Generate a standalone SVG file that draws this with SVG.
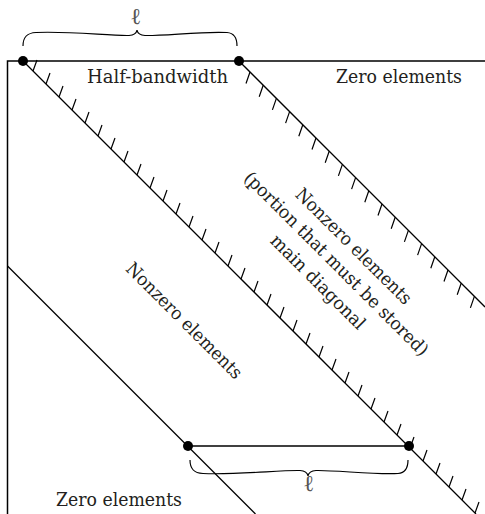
<svg xmlns="http://www.w3.org/2000/svg" width="485" height="514" viewBox="0 0 485 514">
<style>
.ln{stroke:#000;stroke-width:1.3;fill:none}
.bd{stroke:#000;stroke-width:1.5;fill:none}
.tk{stroke:#000;stroke-width:1.2;fill:none}
.br{stroke:#000;stroke-width:1.2;fill:none}
.dot{fill:#000}
.t{font-family:"DejaVu Serif","Liberation Serif",serif;font-size:18px;fill:#231f20}
.el{font-family:"Liberation Serif","DejaVu Sans",serif;font-size:23px;fill:#555;text-anchor:middle}
</style>
<rect width="485" height="514" fill="#fff"/>
<g id="frame">
<path class="bd" d="M7.5,514 V61 H485"/>
</g>
<g id="connectors">
<path id="main-diagonal" class="ln" d="M23,61 L476,514"/>
<path id="upper-band" class="ln" d="M239,61 L485,307"/>
<path id="lower-band" class="ln" d="M7.5,266 L255.5,514"/>
<path id="bandwidth-row" class="ln" d="M188,446 H409"/>
<path id="main-hatch" class="tk" d="M33,71l4,-11M46,84l4,-11M59,97l4,-11M72,110l4,-11M85,123l4,-11M98,136l4,-11M111,149l4,-11M124,162l4,-11M137,175l4,-11M150,188l4,-11M163,201l4,-11M176,214l4,-11M189,227l4,-11M202,240l4,-11M215,253l4,-11M228,266l4,-11M241,279l4,-11M254,292l4,-11M267,305l4,-11M280,318l4,-11M293,331l4,-11M306,344l4,-11M319,357l4,-11M332,370l4,-11M345,383l4,-11M358,396l4,-11M371,409l4,-11M384,422l4,-11M397,435l4,-11M410,448l4,-11M423,461l4,-11M436,474l4,-11M449,487l4,-11M462,500l4,-11M475,513l4,-11"/>
<path id="upper-hatch" class="tk" d="M250,72l-4,11.5M263.2,85.2l-4,11.5M276.4,98.4l-4,11.5M289.6,111.6l-4,11.5M302.8,124.8l-4,11.5M316,138l-4,11.5M329.2,151.2l-4,11.5M342.4,164.4l-4,11.5M355.6,177.6l-4,11.5M368.8,190.8l-4,11.5M382,204l-4,11.5M395.2,217.2l-4,11.5M408.4,230.4l-4,11.5M421.6,243.6l-4,11.5M434.8,256.8l-4,11.5M448,270l-4,11.5M461.2,283.2l-4,11.5M474.4,296.4l-4,11.5"/>
</g>
<g id="dots">
<circle class="dot" cx="23" cy="61" r="5"/>
<circle class="dot" cx="239" cy="61" r="5"/>
<circle class="dot" cx="188" cy="446" r="5"/>
<circle class="dot" cx="409" cy="446" r="5"/>
</g>
<g id="top-brace">
<path class="br" d="M23,46 C23,38 26,33 36,32.5 C70,31 110,36 129,35.5 C134,35.3 136.5,33 137,30 C137.5,33 140,35.3 145,35.5 C164,36 204,31 227,32.5 C234,33 237,38 237,46"/>
<text class="el" x="136" y="24">ℓ</text>
</g>
<g id="bottom-brace">
<path class="br" d="M190,460 C190,468 193,473 203,473.5 C237,475 280,470 300,470.5 C305,470.7 307.5,473 308,476 C308.5,473 311,470.7 316,470.5 C335,470 376,475 398,473.5 C405,473 408,468 408,460"/>
<text class="el" x="309" y="491">ℓ</text>
</g>
<g id="label-half-bandwidth">
<text class="t" x="87" y="83" textLength="141" lengthAdjust="spacingAndGlyphs">Half-bandwidth</text>
</g>
<g id="label-zero-top">
<text class="t" x="336" y="83" textLength="126" lengthAdjust="spacingAndGlyphs">Zero elements</text>
</g>
<g id="label-zero-bottom">
<text class="t" x="56" y="506" textLength="126" lengthAdjust="spacingAndGlyphs">Zero elements</text>
</g>
<g id="label-nonzero-lower" transform="translate(180,325) rotate(45)">
<text class="t" x="-78" y="0" textLength="156" lengthAdjust="spacingAndGlyphs">Nonzero elements</text>
</g>
<g id="label-nonzero-upper" transform="translate(332,268) rotate(45)">
<text class="t" x="-78" y="-24.7" textLength="156" lengthAdjust="spacingAndGlyphs">Nonzero elements</text>
<text class="t" x="-126" y="0" textLength="252" lengthAdjust="spacingAndGlyphs">(portion that must be stored)</text>
<text class="t" x="-63" y="25.8" textLength="126" lengthAdjust="spacingAndGlyphs">main diagonal</text>
</g>
</svg>
